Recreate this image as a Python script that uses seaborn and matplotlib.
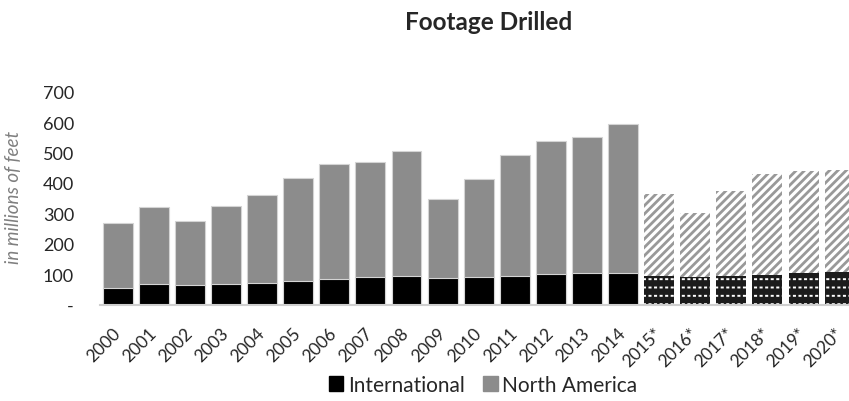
import pandas as pd
import numpy as np
import matplotlib.pyplot as plt
import seaborn as sns
from matplotlib.patches import Patch

# values (millions of feet)
years = ["2000", "2001", "2002", "2003", "2004", "2005", "2006", "2007", "2008", "2009", "2010",
         "2011", "2012", "2013", "2014", "2015*", "2016*", "2017*", "2018*", "2019*", "2020*"]
total = [268, 321, 274, 323, 360, 417, 462, 468, 506, 348, 412,
         493, 537, 550, 593, 364, 301, 372, 429, 439, 444]
international = [54, 69, 66, 67, 71, 78, 84, 90, 95, 89, 91,
                 93, 100, 105, 105, 95, 91, 95, 99, 104, 106]
forecast = [False] * 15 + [True] * 6
ytick_values = [0, 100, 200, 300, 400, 500, 600, 700]
ytick_labels = ["-", "100", "200", "300", "400", "500", "600", "700"]

df = pd.DataFrame({"year": years, "total": total, "intl": international, "forecast": forecast})
hist = df[~df["forecast"]]
fc = df[df["forecast"]]

sns.set_theme(style="white")
plt.rcParams["font.family"] = ["Lato", "DejaVu Sans"]
plt.rcParams["hatch.linewidth"] = 2.0

NA_GRAY = "#8c8c8c"
DARK = "#1c1c1c"
TEXT = "#262626"
BAR_W = 0.83

fig = plt.figure(figsize=(8.49, 4.02), dpi=100)
ax = fig.add_axes([99.7 / 849, 0.2395, 758 / 849, 0.53])


def bars(data, col, color, **kw):
    n0 = len(ax.patches)
    sns.barplot(data=data, x="year", y=col, order=years, color=color, saturation=1,
                width=BAR_W, errorbar=None, ax=ax, **kw)
    return ax.patches[n0:]


def hatch_style(patches, face, hatch_col, hlw):
    for p in patches:
        p.set_facecolor(face)
        p.set_edgecolor(hatch_col)
        p.set_linewidth(0)
        if hasattr(p, "set_hatch_linewidth"):
            p.set_hatch_linewidth(hlw)


# history: solid stacked bars
bars(hist, "total", NA_GRAY, edgecolor="#d4d4d4", linewidth=0.8)
bars(hist, "intl", "black", edgecolor="#d4d4d4", linewidth=0.8)

# forecast: hatched bars
hatch_style(bars(fc, "total", NA_GRAY, hatch="////"), "white", "#999999", 2.0)
hatch_style(bars(fc, "intl", DARK, hatch="--"), DARK, "white", 1.4)
hatch_style(bars(fc, "intl", DARK, hatch="|||"), "none", DARK, 1.8)

ax.set_xlim(-0.5, 20.5)
ax.set_ylim(0, 700)
ax.set_yticks(ytick_values)
ax.set_yticklabels(ytick_labels, fontsize=13, color=TEXT)
ax.tick_params(axis="y", length=0, pad=18.5)
ax.tick_params(axis="x", length=0, pad=18)
for lab in ax.get_xticklabels():
    lab.set_rotation(45)
    lab.set_ha("right")
    lab.set_va("center")
    lab.set_rotation_mode("anchor")
    lab.set_fontsize(12.5)
    lab.set_color(TEXT)
ax.set_xlabel("")
ax.set_ylabel("in millions of feet", fontsize=13.5, style="italic", color="#7f7f7f")
ax.yaxis.set_label_coords(-0.102, 0.51)

sns.despine(ax=ax, left=True)
ax.spines["bottom"].set_color("#cfcfcf")
ax.spines["bottom"].set_linewidth(1.5)

fig.text(489 / 849, 1 - 22 / 402, "Footage Drilled", ha="center", va="center",
         fontsize=17.5, fontweight="bold", color=TEXT)

handles = [Patch(facecolor="black", edgecolor="black"),
           Patch(facecolor=NA_GRAY, edgecolor=NA_GRAY)]
fig.legend(handles, ["International", "North America"], loc="center",
           bbox_to_anchor=(483 / 849, 1 - 386 / 402), ncol=2, frameon=False,
           fontsize=15, handlelength=0.7, handleheight=0.7, handletextpad=0.2,
           columnspacing=0.9, labelcolor=TEXT)

fig.savefig("out.png", dpi=100)
